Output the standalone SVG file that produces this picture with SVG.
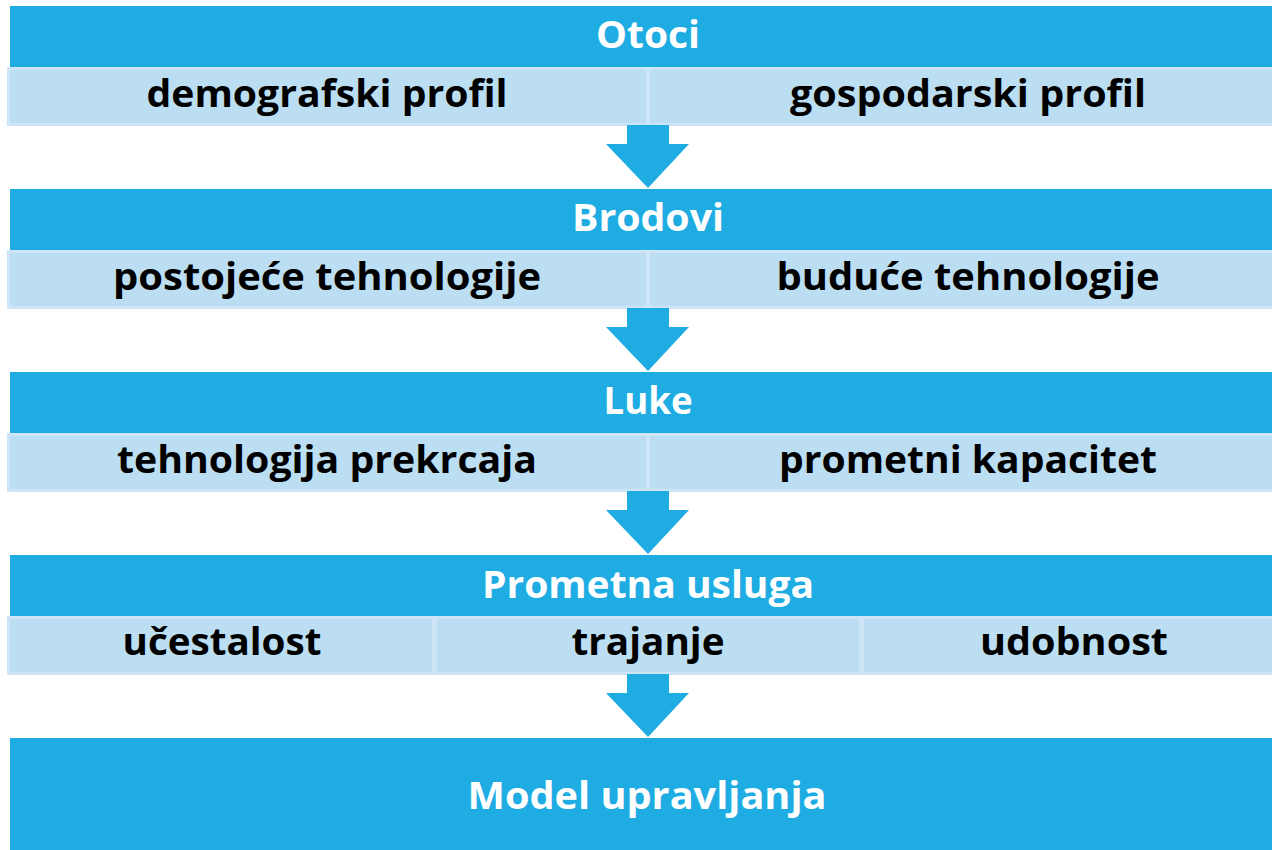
<svg xmlns="http://www.w3.org/2000/svg" width="1272" height="850" viewBox="0 0 1272 850">
<defs>
<style>
.hdr{fill:#1FACE3}
.cell{fill:#BBDEF3;stroke:#CDE5F6;stroke-width:3}
.arrow{fill:#1FACE3}
text{font-family:"Open Sans","Liberation Sans",sans-serif;font-weight:700;font-size:38px;text-anchor:middle}
.w{fill:#FFFFFF}
.b{fill:#000000}
</style>
<path id="arr" d="M627,0 H669 V19 H689 L648,63 L606,19 H627 Z"/>
</defs>
<rect width="1272" height="850" fill="#FFFFFF"/>
<g id="otoci">
<rect class="hdr" x="10" y="6" width="1280" height="61"/>
<text class="w" x="648" y="48" textLength="104" lengthAdjust="spacingAndGlyphs">Otoci</text>
<rect class="cell" x="8.5" y="68.5" width="639" height="56"/>
<rect class="cell" x="648.5" y="68.5" width="640" height="56"/>
<text class="b" x="327" y="107" textLength="361" lengthAdjust="spacingAndGlyphs">demografski profil</text>
<text class="b" x="968" y="107" textLength="356" lengthAdjust="spacingAndGlyphs">gospodarski profil</text>
</g>
<g id="brodovi">
<rect class="hdr" x="10" y="189" width="1280" height="61"/>
<text class="w" x="648" y="231" textLength="152" lengthAdjust="spacingAndGlyphs">Brodovi</text>
<rect class="cell" x="8.5" y="251.5" width="639" height="56"/>
<rect class="cell" x="648.5" y="251.5" width="640" height="56"/>
<text class="b" x="327" y="290" textLength="428" lengthAdjust="spacingAndGlyphs">postojeće tehnologije</text>
<text class="b" x="968" y="290" textLength="383" lengthAdjust="spacingAndGlyphs">buduće tehnologije</text>
</g>
<g id="luke">
<rect class="hdr" x="10" y="372" width="1280" height="61"/>
<text class="w" x="648" y="414" textLength="89" lengthAdjust="spacingAndGlyphs">Luke</text>
<rect class="cell" x="8.5" y="434.5" width="639" height="56"/>
<rect class="cell" x="648.5" y="434.5" width="640" height="56"/>
<text class="b" x="327" y="473" textLength="420" lengthAdjust="spacingAndGlyphs">tehnologija prekrcaja</text>
<text class="b" x="968" y="473" textLength="378" lengthAdjust="spacingAndGlyphs">prometni kapacitet</text>
</g>
<g id="prometna-usluga">
<rect class="hdr" x="10" y="555" width="1280" height="61"/>
<text class="w" x="648" y="598" textLength="332" lengthAdjust="spacingAndGlyphs">Prometna usluga</text>
<rect class="cell" x="8.5" y="617.5" width="425" height="56"/>
<rect class="cell" x="435.5" y="617.5" width="425" height="56"/>
<rect class="cell" x="862.5" y="617.5" width="426" height="56"/>
<text class="b" x="222" y="655" textLength="199" lengthAdjust="spacingAndGlyphs">učestalost</text>
<text class="b" x="648" y="655" textLength="153" lengthAdjust="spacingAndGlyphs">trajanje</text>
<text class="b" x="1074" y="655" textLength="188" lengthAdjust="spacingAndGlyphs">udobnost</text>
</g>
<g id="model-upravljanja">
<rect class="hdr" x="10" y="738" width="1280" height="112"/>
<text class="w" x="647" y="809" textLength="359" lengthAdjust="spacingAndGlyphs">Model upravljanja</text>
</g>
<g id="connectors">
<use href="#arr" class="arrow" y="125"/>
<use href="#arr" class="arrow" y="308"/>
<use href="#arr" class="arrow" y="491"/>
<use href="#arr" class="arrow" y="674"/>
</g>
</svg>
